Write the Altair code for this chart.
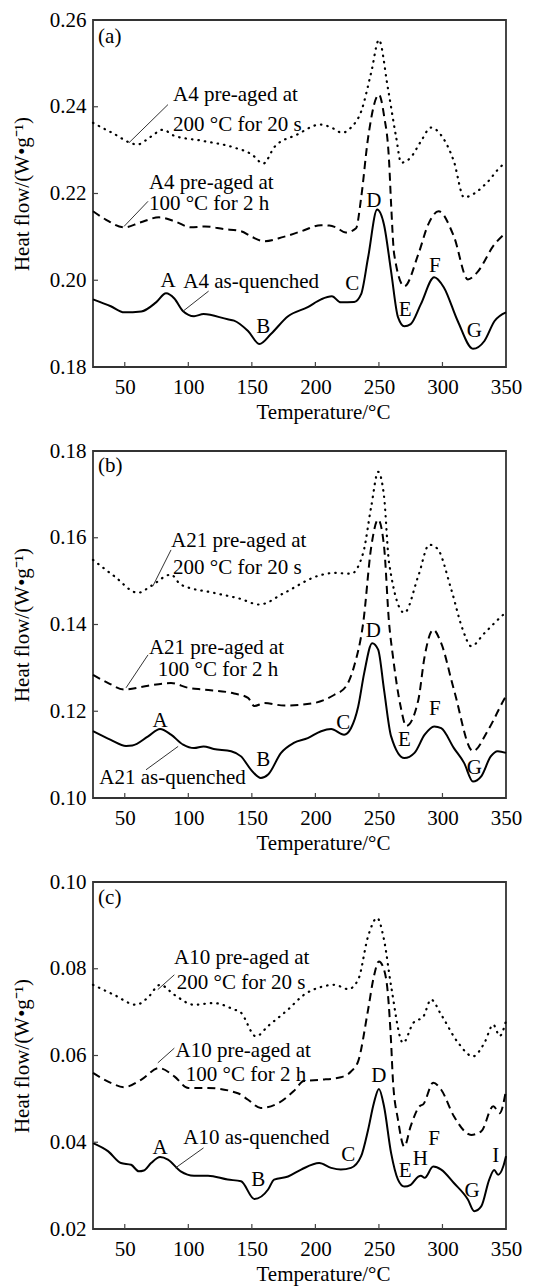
import altair as alt
import pandas as pd

FONT = "Liberation Serif"
FS = 21
W, H = 413, 347
x_ticks = [50, 100, 150, 200, 250, 300, 350]
x_inner_ticks = [50, 100, 150, 200, 250, 300]

# ---------------- panel (a) ----------------
a_y_dom = [0.18, 0.26]
a_y_ticks = [0.18, 0.20, 0.22, 0.24, 0.26]
a_dot_T = [25, 40, 60, 70, 80, 89, 110, 136, 150, 159, 168, 185, 204, 214, 221, 228, 236, 244, 250, 257, 263.6, 267.5, 275, 283, 291, 300, 309, 317, 325, 335, 348, 350]
a_dot_v = [0.2363, 0.2340, 0.2313, 0.2330, 0.2347, 0.2333, 0.2322, 0.2306, 0.2290, 0.2269, 0.2308, 0.2335, 0.2359, 0.2350, 0.2340, 0.2352, 0.2389, 0.2480, 0.2554, 0.2444, 0.2329, 0.2271, 0.2283, 0.2320, 0.2352, 0.2330, 0.2274, 0.2191, 0.2200, 0.2225, 0.2267, 0.2270]
a_dash_T = [25, 35, 49.6, 62, 77, 90, 102, 113, 128, 141.5, 150, 160, 175, 189, 204.5, 211, 216, 224, 232, 236, 241.5, 250, 254, 258, 259.6, 262, 270, 281, 289, 297, 309, 320, 327, 341, 350]
a_dash_v = [0.2159, 0.2140, 0.2122, 0.2133, 0.2145, 0.2135, 0.2122, 0.2124, 0.2118, 0.2113, 0.2100, 0.2090, 0.2100, 0.2113, 0.2127, 0.2126, 0.2122, 0.2110, 0.2120, 0.2190, 0.2329, 0.2428, 0.2380, 0.2274, 0.2175, 0.2060, 0.1986, 0.2060, 0.2130, 0.2159, 0.2101, 0.2002, 0.2017, 0.2083, 0.2110]
a_sol_T = [25, 39, 49.6, 63, 74.6, 82.5, 89, 95.7, 104.5, 112, 131, 136, 147, 156, 165, 178.5, 194, 204.5, 213, 220, 230.5, 236, 241.5, 248.6, 254, 259.6, 265, 270, 275, 283, 293.5, 301, 312, 324, 333, 341, 350]
a_sol_v = [0.1956, 0.1940, 0.1926, 0.1928, 0.1949, 0.1970, 0.1958, 0.1929, 0.1917, 0.1922, 0.1910, 0.1907, 0.1883, 0.1853, 0.1876, 0.1917, 0.1938, 0.1956, 0.1963, 0.1949, 0.1950, 0.1968, 0.2053, 0.2163, 0.2128, 0.2020, 0.1915, 0.1894, 0.1899, 0.1945, 0.2007, 0.1984, 0.1906, 0.1842, 0.1860, 0.1906, 0.1926]
a_text_T = [29, 88, 88, 69, 69, 96]
a_text_v = [0.2561, 0.2428, 0.2359, 0.2225, 0.2175, 0.1995]
a_text_s = ["(a)", "A4 pre-aged at", "200 °C for 20 s", "A4 pre-aged at", "100 °C for 2 h", "A4 as-quenched"]
a_let_T = [84, 159, 229, 246, 270.7, 294, 325]
a_let_v = [0.1998, 0.1892, 0.1991, 0.2182, 0.1931, 0.2032, 0.1883]
a_let_s = ["A", "B", "C", "D", "E", "F", "G"]
a_lead_T = [84, 68.3, 116]
a_lead_v = [0.2405, 0.2182, 0.1975]
a_lead_T2 = [53.3, 49.4, 96]
a_lead_v2 = [0.2317, 0.2124, 0.1929]

# ---------------- panel (b) ----------------
b_y_dom = [0.10, 0.18]
b_y_ticks = [0.10, 0.12, 0.14, 0.16, 0.18]
b_dot_T = [25, 41.5, 60.4, 70.7, 86.4, 94, 120, 140, 156, 175.6, 202, 215, 228, 237.6, 244, 249.4, 254, 258, 270, 281, 289.6, 296, 307, 316, 322.6, 333, 348, 350]
b_dot_v = [0.1549, 0.1512, 0.1473, 0.1489, 0.1515, 0.1492, 0.1473, 0.1460, 0.1446, 0.1473, 0.1512, 0.1519, 0.1517, 0.1565, 0.1673, 0.1752, 0.1696, 0.1542, 0.1427, 0.1512, 0.1584, 0.1575, 0.1480, 0.1388, 0.1350, 0.1380, 0.1423, 0.1428]
b_dash_T = [25, 37, 49.6, 68.4, 86.4, 100, 112, 136, 147, 152, 160, 175.6, 199, 215, 224, 230.5, 237.6, 244, 249.4, 254, 258, 261, 267, 271.5, 281, 286, 292.7, 299, 309, 324, 336, 349, 350]
b_dash_v = [0.1284, 0.1265, 0.1250, 0.1259, 0.1265, 0.1254, 0.1250, 0.1241, 0.1231, 0.1212, 0.1219, 0.1213, 0.1219, 0.1238, 0.1257, 0.1304, 0.1403, 0.1580, 0.1642, 0.1581, 0.1403, 0.1327, 0.1212, 0.1166, 0.1226, 0.1327, 0.1388, 0.1357, 0.1250, 0.1108, 0.1157, 0.1230, 0.1235]
b_sol_T = [25, 39, 51, 56, 68.4, 77.8, 86.4, 95.9, 104.5, 112, 120, 133.7, 141.5, 149.4, 157, 162.8, 173, 183, 194, 204.5, 212.4, 222.6, 228, 233.7, 238.4, 244.7, 249.4, 254, 259.6, 270, 278, 286, 293.5, 299, 309, 317, 324, 330.5, 338, 343.5, 350]
b_sol_v = [0.1154, 0.1134, 0.1120, 0.1121, 0.1142, 0.1159, 0.1146, 0.1123, 0.1115, 0.1119, 0.1113, 0.1108, 0.1096, 0.1065, 0.1046, 0.1054, 0.1104, 0.1127, 0.1138, 0.1154, 0.1159, 0.1146, 0.1161, 0.1211, 0.1288, 0.1357, 0.1342, 0.1250, 0.1142, 0.1092, 0.1104, 0.1146, 0.1165, 0.1161, 0.1115, 0.1081, 0.1038, 0.1050, 0.1096, 0.1108, 0.1104]
b_text_T = [29, 86.4, 88, 69, 76, 30]
b_text_v = [0.1765, 0.1592, 0.1530, 0.1346, 0.1296, 0.1046]
b_text_s = ["(b)", "A21 pre-aged at", "200 °C for 20 s", "A21 pre-aged at", "100 °C for 2 h", "A21 as-quenched"]
b_let_T = [77.8, 159, 222, 245.5, 270, 294, 325]
b_let_v = [0.1177, 0.1088, 0.1173, 0.1384, 0.1134, 0.1205, 0.1069]
b_let_s = ["A", "B", "C", "D", "E", "F", "G"]
b_lead_T = [86.4, 68.3, 92]
b_lead_v = [0.1572, 0.1330, 0.1119]
b_lead_T2 = [72, 51, 66.7]
b_lead_v2 = [0.1488, 0.1254, 0.1065]

# ---------------- panel (c) ----------------
c_y_dom = [0.02, 0.10]
c_y_ticks = [0.02, 0.04, 0.06, 0.08, 0.10]
c_dot_T = [25, 41.5, 58.9, 68, 77.8, 89, 104.5, 120, 136, 141, 153.3, 162.8, 178.5, 191, 204.5, 215, 225.8, 233.7, 241.5, 248.6, 254, 259.6, 269, 277, 285, 291, 299, 312.4, 324, 333, 340, 345, 350]
c_dot_v = [0.0763, 0.0740, 0.0717, 0.0733, 0.0763, 0.0740, 0.0717, 0.0721, 0.0706, 0.0700, 0.0644, 0.0668, 0.0706, 0.0740, 0.0758, 0.0763, 0.0753, 0.0775, 0.0875, 0.0917, 0.0867, 0.0760, 0.0629, 0.0675, 0.0690, 0.0729, 0.0694, 0.0629, 0.0598, 0.0629, 0.0671, 0.0645, 0.0680]
c_dash_T = [25, 39, 49.6, 62.8, 77, 89, 100, 115.5, 139, 147, 157, 170.7, 183, 191, 204.5, 220, 228, 233.7, 241.5, 246, 250, 254, 257, 259.6, 261, 265, 270, 275, 282, 285, 292.7, 299, 309, 322.6, 330.5, 340, 345, 350]
c_dash_v = [0.0560, 0.0537, 0.0527, 0.0544, 0.0571, 0.0552, 0.0525, 0.0525, 0.0513, 0.0498, 0.0479, 0.0490, 0.0518, 0.0541, 0.0544, 0.0550, 0.0563, 0.0587, 0.0706, 0.0782, 0.0817, 0.0798, 0.0744, 0.0629, 0.0544, 0.0452, 0.0390, 0.0437, 0.0483, 0.0488, 0.0537, 0.0521, 0.0460, 0.0417, 0.0425, 0.0483, 0.0467, 0.0520]
c_sol_T = [25, 37, 47, 55, 61, 65, 70.7, 77.8, 84, 94, 104.5, 115.5, 131, 141.5, 152, 162.8, 167.5, 178.5, 188.8, 203, 212.4, 220, 228, 236, 241.5, 246, 250, 254, 259.6, 265, 270, 275, 281, 283, 286, 292.7, 299, 309, 320, 325, 330.5, 336.8, 340.7, 343.9, 347.8, 350]
c_sol_v = [0.0398, 0.0379, 0.0352, 0.0348, 0.0333, 0.0335, 0.0352, 0.0366, 0.0360, 0.0333, 0.0323, 0.0323, 0.0314, 0.0310, 0.0269, 0.0291, 0.0314, 0.0321, 0.0337, 0.0352, 0.0341, 0.0337, 0.0341, 0.0368, 0.0429, 0.0490, 0.0523, 0.0483, 0.0375, 0.0314, 0.0298, 0.0302, 0.0321, 0.0323, 0.0318, 0.0344, 0.0337, 0.0306, 0.0268, 0.0241, 0.0252, 0.0314, 0.0336, 0.0325, 0.0344, 0.0368]
c_text_T = [29, 88.8, 91, 90, 98, 96]
c_text_v = [0.0963, 0.0825, 0.0767, 0.0610, 0.0555, 0.0410]
c_text_s = ["(c)", "A10 pre-aged at", "200 °C for 20 s", "A10 pre-aged at", "100 °C for 2 h", "A10 as-quenched"]
c_let_T = [77.8, 155, 225.8, 250, 270.7, 282.5, 293.5, 323.4, 342]
c_let_v = [0.0387, 0.0314, 0.0371, 0.0553, 0.0333, 0.0361, 0.0407, 0.0287, 0.0369]
c_let_s = ["A", "B", "C", "D", "E", "H", "F", "G", "I"]
c_lead_T = [89, 89, 112]
c_lead_v = [0.0786, 0.0617, 0.0387]
c_lead_T2 = [76, 76, 90]
c_lead_v2 = [0.0752, 0.0583, 0.0341]


def xenc():
    return alt.X(
        "T:Q",
        scale=alt.Scale(domain=[25, 350], nice=False, zero=False),
        axis=alt.Axis(
            values=x_ticks, title="Temperature/°C", grid=False, domain=False,
            ticks=False, tickSize=0, labelPadding=26, labelBaseline="alphabetic",
            labelFlush=False, labelOverlap=False, labelFont=FONT, labelFontSize=FS,
            labelColor="black", titleFont=FONT, titleFontSize=FS, titleFontWeight="normal",
            titleColor="black", titleX=230, titleY=51.5, titleBaseline="alphabetic",
            titleAlign="center",
        ),
    )


def yenc(dom, vals):
    return alt.Y(
        "v:Q",
        scale=alt.Scale(domain=dom, nice=False, zero=False),
        axis=alt.Axis(
            values=vals, format=".2f", title="Heat flow/(W•g⁻¹)", grid=False,
            domain=False, ticks=False, tickSize=0, labelPadding=7, labelFlush=False,
            labelOverlap=False, labelFont=FONT, labelFontSize=FS, labelColor="black",
            titleFont=FONT, titleFontSize=FS, titleFontWeight="normal", titleColor="black",
            titleX=-65, titleY=H / 2, titleAngle=270, titleBaseline="alphabetic",
            titleAlign="center",
        ),
    )


def panel(dom, vals, dotT, dotv, dashT, dashv, solT, solv,
          tT, tv, ts, lT, lv, ls, ldT, ldv, ldT2, ldv2):
    X = xenc()
    Y = yenc(dom, vals)
    dot = alt.Chart(pd.DataFrame({"T": dotT, "v": dotv})).mark_line(
        color="black", strokeWidth=2.2, strokeDash=[0.5, 6], strokeCap="round",
        interpolate="monotone").encode(x=X, y=Y)
    dash = alt.Chart(pd.DataFrame({"T": dashT, "v": dashv})).mark_line(
        color="black", strokeWidth=2, strokeDash=[8, 5],
        interpolate="monotone").encode(x=X, y=Y)
    sol = alt.Chart(pd.DataFrame({"T": solT, "v": solv})).mark_line(
        color="black", strokeWidth=2, interpolate="monotone").encode(x=X, y=Y)
    lead = alt.Chart(pd.DataFrame({"T": ldT, "v": ldv, "T2": ldT2, "v2": ldv2})).mark_rule(
        color="#333", strokeWidth=1).encode(x=X, y=Y, x2="T2:Q", y2="v2:Q")
    txt = alt.Chart(pd.DataFrame({"T": tT, "v": tv, "s": ts})).mark_text(
        align="left", baseline="middle", font=FONT, fontSize=FS, color="black"
    ).encode(x=X, y=Y, text="s:N")
    let = alt.Chart(pd.DataFrame({"T": lT, "v": lv, "s": ls})).mark_text(
        align="center", baseline="middle", font=FONT, fontSize=FS, color="black"
    ).encode(x=X, y=Y, text="s:N")
    xt = alt.Chart(pd.DataFrame({"T": x_inner_ticks})).mark_rule(
        color="#444", strokeWidth=1.2).encode(x=X, y=alt.value(H), y2=alt.value(H - 5))
    yt = alt.Chart(pd.DataFrame({"v": vals[1:-1]})).mark_rule(
        color="#444", strokeWidth=1.2).encode(y=Y, x=alt.value(0), x2=alt.value(5))
    return alt.layer(dash, dot, sol, lead, txt, let, xt, yt).properties(
        width=W, height=H, view=alt.ViewBackground(stroke="#333333", strokeWidth=1.8))


pa = panel(a_y_dom, a_y_ticks, a_dot_T, a_dot_v, a_dash_T, a_dash_v, a_sol_T, a_sol_v,
           a_text_T, a_text_v, a_text_s, a_let_T, a_let_v, a_let_s,
           a_lead_T, a_lead_v, a_lead_T2, a_lead_v2)
pb = panel(b_y_dom, b_y_ticks, b_dot_T, b_dot_v, b_dash_T, b_dash_v, b_sol_T, b_sol_v,
           b_text_T, b_text_v, b_text_s, b_let_T, b_let_v, b_let_s,
           b_lead_T, b_lead_v, b_lead_T2, b_lead_v2)
pc = panel(c_y_dom, c_y_ticks, c_dot_T, c_dot_v, c_dash_T, c_dash_v, c_sol_T, c_sol_v,
           c_text_T, c_text_v, c_text_s, c_let_T, c_let_v, c_let_s,
           c_lead_T, c_lead_v, c_lead_T2, c_lead_v2)

chart = alt.vconcat(pa, pb, pc, spacing=84, bounds="flush").properties(
    padding={"left": 2, "top": 0, "right": 5, "bottom": 2},
    background="white",
).configure_view(stroke="#333333", strokeWidth=1.8)

chart.save("out.html", embed_options={"renderer": "svg", "actions": False})
